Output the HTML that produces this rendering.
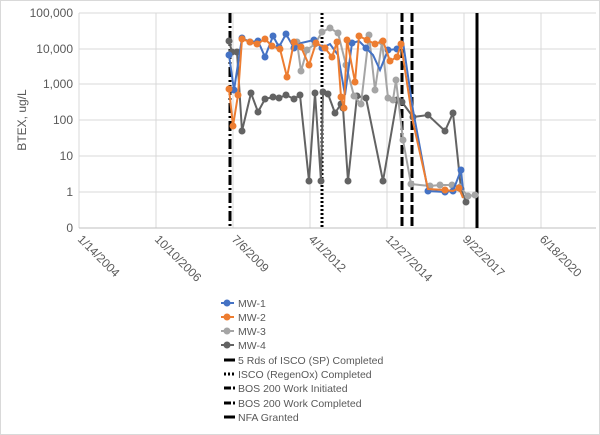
<!DOCTYPE html>
<html><head><style>body{margin:0;background:#fff}svg{display:block;font-family:"Liberation Sans",sans-serif}</style></head><body>
<svg width="600" height="435" viewBox="0 0 600 435">
<rect x="0.5" y="0.5" width="599" height="434" fill="#fff" stroke="#d9d9d9"/>
<g stroke="#d9d9d9" stroke-width="1">
<line x1="79" y1="13" x2="596" y2="13"/><line x1="79" y1="49" x2="596" y2="49"/><line x1="79" y1="84" x2="596" y2="84"/><line x1="79" y1="120" x2="596" y2="120"/><line x1="79" y1="156" x2="596" y2="156"/><line x1="79" y1="192" x2="596" y2="192"/>
<line x1="156" y1="13" x2="156" y2="228"/><line x1="233" y1="13" x2="233" y2="228"/><line x1="310" y1="13" x2="310" y2="228"/><line x1="387" y1="13" x2="387" y2="228"/><line x1="464" y1="13" x2="464" y2="228"/><line x1="541" y1="13" x2="541" y2="228"/>
<line x1="79" y1="13" x2="79" y2="228"/>
</g>
<line x1="79" y1="228" x2="596" y2="228" stroke="#bfbfbf"/>
<g font-size="12" fill="#595959" text-anchor="end">
<text x="73" y="17">100,000</text><text x="73" y="53">10,000</text><text x="73" y="88">1,000</text><text x="73" y="124">100</text><text x="73" y="160">10</text><text x="73" y="196">1</text><text x="73" y="232">0</text>
</g>
<text transform="translate(26,120) rotate(-90)" font-size="12" fill="#595959" text-anchor="middle">BTEX, ug/L</text>
<g font-size="12" fill="#595959">
<text transform="translate(77,240) rotate(45)">1/14/2004</text>
<text transform="translate(154,240) rotate(45)">10/10/2006</text>
<text transform="translate(231,240) rotate(45)">7/6/2009</text>
<text transform="translate(308,240) rotate(45)">4/1/2012</text>
<text transform="translate(385,240) rotate(45)">12/27/2014</text>
<text transform="translate(462,240) rotate(45)">9/22/2017</text>
<text transform="translate(539,240) rotate(45)">6/18/2020</text>
</g>
<g stroke="#000" fill="none">
<line x1="230" y1="13" x2="230" y2="228" stroke-width="3" stroke-dasharray="10,3,2,3"/>
<line x1="322" y1="13" x2="322" y2="228" stroke-width="3" stroke-dasharray="2,2"/>
<line x1="402" y1="13" x2="402" y2="228" stroke-width="3" stroke-dasharray="9,3"/>
<line x1="412" y1="13" x2="412" y2="228" stroke-width="3" stroke-dasharray="9,3"/>
<line x1="477" y1="13" x2="477" y2="228" stroke-width="3"/>
</g>
<defs>
<g id="m1"><circle r="3.5" fill="#4472c4"/></g>
</defs>
<g id="s4" stroke="#636363" stroke-width="2" fill="none">
<polyline points="229,41 232,52 237,52 242,131 251,93 258,112 265,99 273,97 279,98 286,95 294,99 300,95 309,181 315,93 321,181 323,92 328,94 335,113 341,104 343,108 348,181 357,96 366,98 383,181 397,100 402,102 413,117 428,115 445,131 453,113 461,189 466,202"/>
</g>
<g fill="#636363"><circle cx="229" cy="41" r="3.5"/><circle cx="232" cy="52" r="3.5"/><circle cx="237" cy="52" r="3.5"/><circle cx="242" cy="131" r="3.5"/><circle cx="251" cy="93" r="3.5"/><circle cx="258" cy="112" r="3.5"/><circle cx="265" cy="99" r="3.5"/><circle cx="273" cy="97" r="3.5"/><circle cx="279" cy="98" r="3.5"/><circle cx="286" cy="95" r="3.5"/><circle cx="294" cy="99" r="3.5"/><circle cx="300" cy="95" r="3.5"/><circle cx="309" cy="181" r="3.5"/><circle cx="315" cy="93" r="3.5"/><circle cx="321" cy="181" r="3.5"/><circle cx="323" cy="92" r="3.5"/><circle cx="328" cy="94" r="3.5"/><circle cx="335" cy="113" r="3.5"/><circle cx="341" cy="104" r="3.5"/><circle cx="343" cy="108" r="3.5"/><circle cx="348" cy="181" r="3.5"/><circle cx="357" cy="96" r="3.5"/><circle cx="366" cy="98" r="3.5"/><circle cx="383" cy="181" r="3.5"/><circle cx="397" cy="100" r="3.5"/><circle cx="402" cy="102" r="3.5"/><circle cx="413" cy="117" r="3.5"/><circle cx="428" cy="115" r="3.5"/><circle cx="445" cy="131" r="3.5"/><circle cx="453" cy="113" r="3.5"/><circle cx="461" cy="189" r="3.5"/><circle cx="466" cy="202" r="3.5"/></g>
<polyline stroke="#a5a5a5" stroke-width="2" fill="none" points="297,42 301,71 307,50 315,44 322,32 330,28 338,33 346,65 354,96 361,104 369,35 375,90 382,42 388,98 393,100 396,80 403,140 411,184 420,185 430,186 440,185 445,185 452,185 460,187 468,196 475,195"/>
<g fill="#a5a5a5"><circle cx="297" cy="42" r="3.5"/><circle cx="301" cy="71" r="3.5"/><circle cx="307" cy="50" r="3.5"/><circle cx="315" cy="44" r="3.5"/><circle cx="322" cy="32" r="3.5"/><circle cx="330" cy="28" r="3.5"/><circle cx="338" cy="33" r="3.5"/><circle cx="346" cy="65" r="3.5"/><circle cx="354" cy="96" r="3.5"/><circle cx="361" cy="104" r="3.5"/><circle cx="369" cy="35" r="3.5"/><circle cx="375" cy="90" r="3.5"/><circle cx="382" cy="42" r="3.5"/><circle cx="388" cy="98" r="3.5"/><circle cx="393" cy="100" r="3.5"/><circle cx="396" cy="80" r="3.5"/><circle cx="403" cy="140" r="3.5"/><circle cx="411" cy="184" r="3.5"/><circle cx="430" cy="186" r="3.5"/><circle cx="440" cy="185" r="3.5"/><circle cx="452" cy="185" r="3.5"/><circle cx="460" cy="187" r="3.5"/><circle cx="468" cy="196" r="3.5"/><circle cx="475" cy="195" r="3.5"/></g>
<polyline stroke="#4472c4" stroke-width="2" fill="none" points="229,55 234,90 242,38 250,42 258,41 265,57 273,36 279,47 286,34 294,48 301,43 314,40 322,48 330,44 338,55 345,95 352,43 359,41 366,48 373,55 380,70 388,50 397,49 403,42 413,110 428,191 445,192 453,191 461,170 463,190"/>
<g fill="#4472c4"><circle cx="229" cy="55" r="3.5"/><circle cx="234" cy="90" r="3.5"/><circle cx="242" cy="38" r="3.5"/><circle cx="250" cy="42" r="3.5"/><circle cx="258" cy="41" r="3.5"/><circle cx="265" cy="57" r="3.5"/><circle cx="273" cy="36" r="3.5"/><circle cx="279" cy="47" r="3.5"/><circle cx="286" cy="34" r="3.5"/><circle cx="294" cy="48" r="3.5"/><circle cx="314" cy="40" r="3.5"/><circle cx="322" cy="48" r="3.5"/><circle cx="352" cy="43" r="3.5"/><circle cx="366" cy="48" r="3.5"/><circle cx="388" cy="50" r="3.5"/><circle cx="397" cy="49" r="3.5"/><circle cx="428" cy="191" r="3.5"/><circle cx="445" cy="192" r="3.5"/><circle cx="453" cy="191" r="3.5"/><circle cx="461" cy="170" r="3.5"/></g>
<polyline stroke="#ed7d31" stroke-width="2" fill="none" points="229,89 233,126 238,95 242,39 250,42 257,44 265,39 272,46 280,49 287,77 294,42 301,47 309,65 316,43 325,48 332,57 337,42 341,97 344,108 347,40 355,82 359,36 367,40 375,44 383,41 390,61 397,57 401,44 413,122 428,189 445,190 453,191 459,188 463,198"/>
<g fill="#ed7d31"><circle cx="229" cy="89" r="3.5"/><circle cx="233" cy="126" r="3.5"/><circle cx="238" cy="95" r="3.5"/><circle cx="242" cy="39" r="3.5"/><circle cx="250" cy="42" r="3.5"/><circle cx="257" cy="44" r="3.5"/><circle cx="265" cy="39" r="3.5"/><circle cx="272" cy="46" r="3.5"/><circle cx="280" cy="49" r="3.5"/><circle cx="287" cy="77" r="3.5"/><circle cx="294" cy="42" r="3.5"/><circle cx="301" cy="47" r="3.5"/><circle cx="309" cy="65" r="3.5"/><circle cx="316" cy="43" r="3.5"/><circle cx="325" cy="48" r="3.5"/><circle cx="332" cy="57" r="3.5"/><circle cx="337" cy="42" r="3.5"/><circle cx="341" cy="97" r="3.5"/><circle cx="344" cy="108" r="3.5"/><circle cx="347" cy="40" r="3.5"/><circle cx="355" cy="82" r="3.5"/><circle cx="359" cy="36" r="3.5"/><circle cx="367" cy="40" r="3.5"/><circle cx="375" cy="44" r="3.5"/><circle cx="383" cy="41" r="3.5"/><circle cx="390" cy="61" r="3.5"/><circle cx="397" cy="57" r="3.5"/><circle cx="401" cy="44" r="3.5"/><circle cx="445" cy="190" r="3.5"/><circle cx="459" cy="188" r="3.5"/></g>
<g font-size="10.5" fill="#595959">
<line x1="221" y1="303" x2="234" y2="303" stroke="#4472c4" stroke-width="2"/><circle cx="227" cy="303" r="3.5" fill="#4472c4"/><text x="238" y="307">MW-1</text>
<line x1="221" y1="317" x2="234" y2="317" stroke="#ed7d31" stroke-width="2"/><circle cx="227" cy="317" r="3.5" fill="#ed7d31"/><text x="238" y="321">MW-2</text>
<line x1="221" y1="331" x2="234" y2="331" stroke="#a5a5a5" stroke-width="2"/><circle cx="227" cy="331" r="3.5" fill="#a5a5a5"/><text x="238" y="335">MW-3</text>
<line x1="221" y1="345" x2="234" y2="345" stroke="#636363" stroke-width="2"/><circle cx="227" cy="345" r="3.5" fill="#636363"/><text x="238" y="349">MW-4</text>
<line x1="224" y1="360" x2="235" y2="360" stroke="#000" stroke-width="3"/><text x="238" y="364">5 Rds of ISCO (SP) Completed</text>
<line x1="224" y1="374" x2="235" y2="374" stroke="#000" stroke-width="3" stroke-dasharray="2,2"/><text x="238" y="378">ISCO (RegenOx) Completed</text>
<line x1="224" y1="388" x2="235" y2="388" stroke="#000" stroke-width="3" stroke-dasharray="7,2"/><text x="238" y="392">BOS 200 Work Initiated</text>
<line x1="224" y1="403" x2="235" y2="403" stroke="#000" stroke-width="3" stroke-dasharray="7,2"/><text x="238" y="407">BOS 200 Work Completed</text>
<line x1="224" y1="417" x2="235" y2="417" stroke="#000" stroke-width="3"/><text x="238" y="421">NFA Granted</text>
</g>
</svg>
</body></html>
